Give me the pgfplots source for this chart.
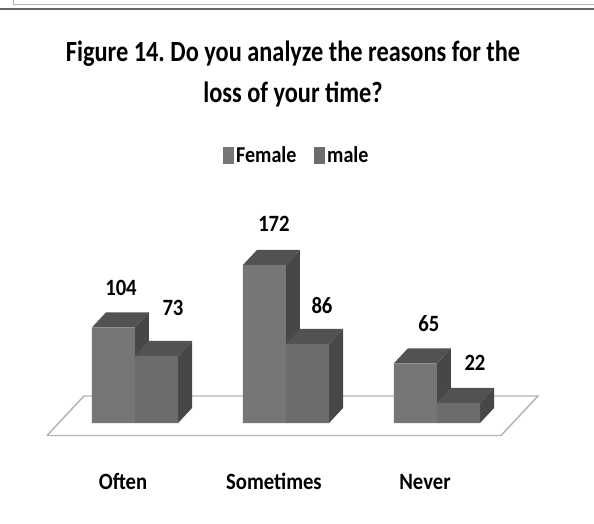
\documentclass[border=0pt]{standalone}
\usepackage{fontspec}
\setmainfont{Carlito}
\newfontfamily\titlefont[FakeStretch=0.83]{Carlito}
\newfontfamily\labelfont[FakeStretch=0.886]{Carlito}
\usepackage{pgfplots}
\pgfplotsset{compat=1.18}
\definecolor{frontF}{HTML}{767676}
\definecolor{frontM}{HTML}{6C6C6C}
\definecolor{sideC}{HTML}{474747}
\definecolor{topC}{HTML}{525252}
\definecolor{floorC}{HTML}{B4B4B4}
\pgfplotsset{valbar/.style={ybar, draw=none, nodes near coords,
    legend image code/.code={\fill[##1] (0pt,-6.5pt) rectangle (8pt,6.5pt);},
    visualization depends on={\thisrow{dx} \as \labdx},
    visualization depends on={\thisrow{dy} \as \labdy},
    every node near coord/.append style={font=\labelfont\fontsize{17.5}{20}\selectfont\bfseries, anchor=center, xshift=\labdx pt, yshift=\labdy pt}}}
\begin{document}
\begin{tikzpicture}
\begin{axis}[
    scale only axis,
    width=445.5pt, height=392.25pt,
    xmin=-0.894, xmax=3.04,
    ymin=-108.8, ymax=460.3,
    axis line style={draw=none},
    tick style={draw=none},
    ytick=\empty,
    xtick={0,1,2},
    xticklabels={Often,Sometimes,Never},
    xticklabel style={font=\labelfont\fontsize{17.5}{20}\selectfont\bfseries, anchor=center, xshift=-9pt, yshift=31pt},
    title={\frenchspacing Figure 14. Do you analyze the reasons for the\\loss of your time?},
    title style={at={(0.4933,0.844)}, anchor=center, align=center, font=\titlefont\fontsize{22}{30.75}\selectfont\bfseries},
    legend style={at={(0.5,0.703)}, anchor=center, draw=none, fill=none, legend columns=2,
        font=\labelfont\fontsize{17}{20}\selectfont\bfseries, /tikz/every even column/.append style={column sep=11pt}},
    bar width=0.285,
    /pgf/number format/assume math mode=true,
]
% page rules at the top
\addplot[forget plot, gray!80!black, line width=1.1pt] coordinates {(-0.894,450.5) (3.04,450.5)};
\addplot[forget plot, gray!60, line width=0.7pt] coordinates {(-0.808,460.3) (-0.808,455.9) (3.04,455.9)};
% floor
\addplot[forget plot, floorC, line width=1.1pt, fill=white] coordinates {(-0.583,-13.6) (2.424,-13.6) (2.669,29.4) (-0.338,29.4) (-0.583,-13.6)};
% female sides and tops
\addplot[forget plot, fill=sideC, draw=none] coordinates {(0,0) (0.0927,16.3) (0.0927,120.3) (0,104)};
\addplot[forget plot, fill=topC, draw=none] coordinates {(-0.285,104) (0,104) (0.0927,120.3) (-0.1923,120.3)};
\addplot[forget plot, fill=sideC, draw=none] coordinates {(1,0) (1.0927,16.3) (1.0927,188.3) (1,172)};
\addplot[forget plot, fill=topC, draw=none] coordinates {(0.715,172) (1,172) (1.0927,188.3) (0.8077,188.3)};
\addplot[forget plot, fill=sideC, draw=none] coordinates {(2,0) (2.0927,16.3) (2.0927,81.3) (2,65)};
\addplot[forget plot, fill=topC, draw=none] coordinates {(1.715,65) (2,65) (2.0927,81.3) (1.8077,81.3)};
% male sides and tops
\addplot[forget plot, fill=sideC, draw=none] coordinates {(0.285,0) (0.3777,16.3) (0.3777,89.3) (0.285,73)};
\addplot[forget plot, fill=topC, draw=none] coordinates {(0,73) (0.285,73) (0.3777,89.3) (0.0927,89.3)};
\addplot[forget plot, fill=sideC, draw=none] coordinates {(1.285,0) (1.3777,16.3) (1.3777,102.3) (1.285,86)};
\addplot[forget plot, fill=topC, draw=none] coordinates {(1,86) (1.285,86) (1.3777,102.3) (1.0927,102.3)};
\addplot[forget plot, fill=sideC, draw=none] coordinates {(2.285,0) (2.3777,16.3) (2.3777,38.3) (2.285,22)};
\addplot[forget plot, fill=topC, draw=none] coordinates {(2,22) (2.285,22) (2.3777,38.3) (2.0927,38.3)};
% fronts, dx and dy place the value label from the category centre and bar top
\addplot[valbar, bar shift=-0.1425, fill=frontF] table {
x y dx dy
0 104 -10.5 30
1 172 -9 30.8
2 65 -6 30
};
\addlegendentry{Female}
\addplot[valbar, bar shift=0.1425, fill=frontM] table {
x y dx dy
0 73 28.5 36
1 86 27 29
2 22 28.5 30
};
\addlegendentry{male}
\end{axis}
\end{tikzpicture}
\end{document}
